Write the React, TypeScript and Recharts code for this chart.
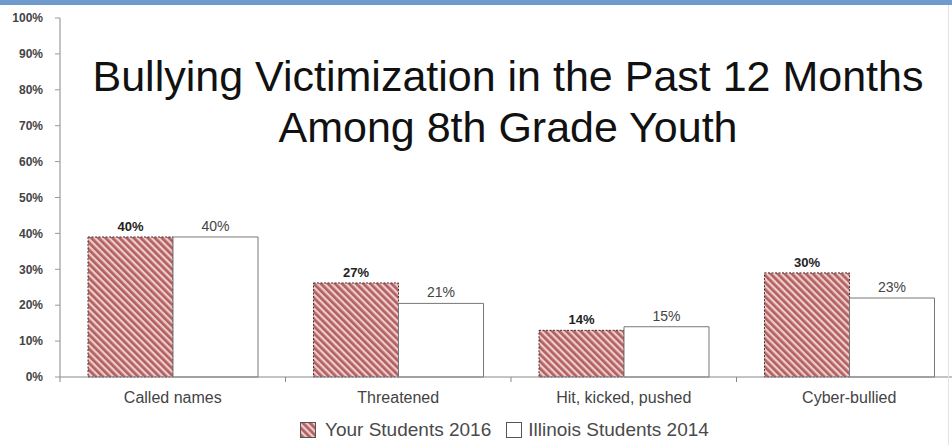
import React from 'react';
import { BarChart, Bar, XAxis, YAxis, Legend, LabelList } from 'recharts';

const categories = ['Called names', 'Threatened', 'Hit, kicked, pushed', 'Cyber-bullied'];
const yourStudents2016 = [39, 26.2, 13, 29];
const illinoisStudents2014 = [39, 20.5, 14, 22];
const yourLabels = ['40%', '27%', '14%', '30%'];
const illinoisLabels = ['40%', '21%', '15%', '23%'];
const yTicks = [0, 10, 20, 30, 40, 50, 60, 70, 80, 90, 100];
const seriesNames = ['Your Students 2016', 'Illinois Students 2014'];
const titleLines = ['Bullying Victimization in the Past 12 Months', 'Among 8th Grade Youth'];

const data = categories.map((c, i) => ({
  name: c,
  your: yourStudents2016[i],
  illinois: illinoisStudents2014[i],
  yourLabel: yourLabels[i],
  illinoisLabel: illinoisLabels[i],
}));

const FONT = '"Liberation Sans", Arial, Helvetica, sans-serif';
const CHART_W = 980;
const CHART_H = 445;
const PLOT_LEFT = 60;
const PLOT_RIGHT = 962;

const XTick = (props: any) => {
  const { x, y, payload, index } = props;
  const band = (PLOT_RIGHT - PLOT_LEFT) / categories.length;
  return (
    <g>
      <line x1={x - band / 2} x2={x - band / 2} y1={y} y2={y + 5} stroke="#888" />
      {index === categories.length - 1 && (
        <line x1={x + band / 2} x2={x + band / 2} y1={y} y2={y + 5} stroke="#888" />
      )}
      <text x={x} y={y + 26} textAnchor="middle" fontSize={16} fill="#444" fontFamily={FONT}>
        {payload.value}
      </text>
    </g>
  );
};

const renderLegend = () => (
  <div
    style={{
      height: 30,
      display: 'flex',
      alignItems: 'center',
      paddingLeft: 300,
      fontFamily: FONT,
      fontSize: 19,
      color: '#4a4a4a',
      whiteSpace: 'nowrap',
    }}
  >
    <svg width={16} height={16} style={{ display: 'block' }}>
      <rect x={0.5} y={0.5} width={15} height={15} fill="url(#hatch)" stroke="#555" />
    </svg>
    <span style={{ marginLeft: 9 }}>{seriesNames[0]}</span>
    <svg width={16} height={16} style={{ display: 'block', marginLeft: 15 }}>
      <rect x={0.5} y={0.5} width={15} height={15} fill="#fff" stroke="#555" />
    </svg>
    <span style={{ marginLeft: 6 }}>{seriesNames[1]}</span>
  </div>
);

export default function App() {
  return (
    <div
      style={{
        position: 'absolute',
        left: 0,
        top: 0,
        width: 952,
        height: 445,
        overflow: 'hidden',
        background: '#fff',
      }}
    >
      <BarChart
        width={CHART_W}
        height={CHART_H}
        data={data}
        margin={{ top: 18, right: CHART_W - PLOT_RIGHT, left: 0, bottom: 0 }}
        barGap={0}
      >
        <defs>
          <pattern
            id="hatch"
            width={5}
            height={5}
            patternUnits="userSpaceOnUse"
            patternTransform="rotate(-45)"
          >
            <rect width={5} height={5} fill="#eccccc" />
            <rect width={2.7} height={5} fill="#b35f5f" />
          </pattern>
        </defs>
        <text x={508} y={91} textAnchor="middle" fontSize={43} fill="#111" fontFamily={FONT}>
          {titleLines[0]}
        </text>
        <text x={508} y={142} textAnchor="middle" fontSize={43} fill="#111" fontFamily={FONT}>
          {titleLines[1]}
        </text>
        <XAxis
          dataKey="name"
          height={38}
          tickSize={0}
          tickMargin={0}
          tickLine={false}
          axisLine={{ stroke: '#888' }}
          tick={<XTick />}
          interval={0}
        />
        <YAxis
          width={PLOT_LEFT}
          domain={[0, 100]}
          ticks={yTicks}
          interval={0}
          tickFormatter={(v: number) => `${v}%`}
          tickSize={5}
          tickMargin={12}
          axisLine={{ stroke: '#888' }}
          tickLine={{ stroke: '#999' }}
          tick={{ fontSize: 12, fontWeight: 'bold', fill: '#444', fontFamily: FONT }}
        />
        <Legend
          verticalAlign="bottom"
          content={renderLegend}
          wrapperStyle={{ left: 0, width: CHART_W }}
        />
        <Bar
          dataKey="your"
          name={seriesNames[0]}
          fill="url(#hatch)"
          stroke="#4a3030"
          strokeDasharray="2 1.5"
          barSize={85}
          isAnimationActive={false}
        >
          <LabelList
            dataKey="yourLabel"
            position="top"
            offset={6}
            fill="#222"
            fontSize={13}
            fontWeight="bold"
            fontFamily={FONT}
          />
        </Bar>
        <Bar
          dataKey="illinois"
          name={seriesNames[1]}
          fill="#fff"
          stroke="#777"
          barSize={85}
          isAnimationActive={false}
        >
          <LabelList
            dataKey="illinoisLabel"
            position="top"
            offset={6}
            fill="#444"
            fontSize={14}
            fontFamily={FONT}
          />
        </Bar>
      </BarChart>
      <div style={{ position: 'absolute', left: 0, top: 0, width: 952, height: 5, background: '#6f9acd' }} />
      <div style={{ position: 'absolute', left: 948, top: 5, width: 1, height: 440, background: '#e4e4e4' }} />
    </div>
  );
}
